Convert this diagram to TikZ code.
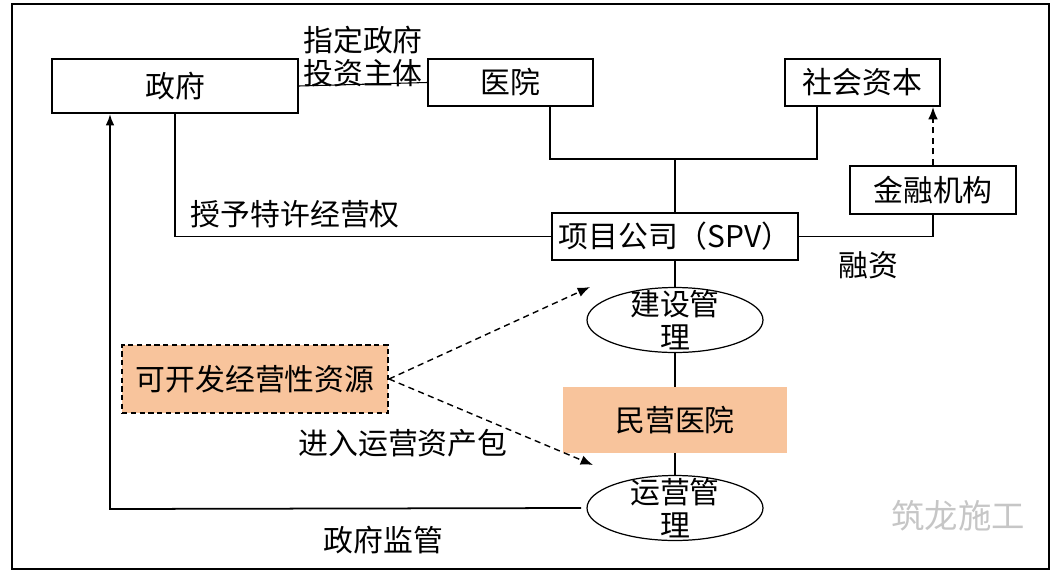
\documentclass[tikz,border=0pt]{standalone}
\usepackage{fontspec}
\setmainfont{Noto Sans CJK SC}
\usetikzlibrary{shapes.geometric, arrows.meta}
\definecolor{peach}{RGB}{248,196,156}

\begin{document}
\begin{tikzpicture}[
        x=0.02cm, y=-0.02cm,
        font=\fontsize{17}{19}\selectfont,
        box/.style={rectangle, draw, line width=1.2pt, inner sep=0pt},
        orange/.style={rectangle, fill=peach, inner sep=0pt, minimum
        width=4.48cm, minimum height=1.32cm},
        dashedbox/.style={rectangle, draw, fill=peach, dash pattern=on
          3pt off 2pt, line width=1.2pt, inner sep=0pt, minimum
        width=5.32cm, minimum height=1.36cm},
        oval/.style={ellipse, draw, line width=0.7pt, minimum
        width=3.52cm, minimum height=1.3cm, inner sep=0pt},
        line/.style={draw, line width=0.6pt},
        arrow/.style={draw, -{Latex[length=6.5pt, width=5pt]}, line width=1pt},
        dashedline/.style={draw, dash pattern=on 3.5pt off 2.5pt,
        -{Latex[length=7pt, width=5.5pt]}, line width=0.8pt}
      ]
      \useasboundingbox (0,0) rectangle (1064,575);
      \draw[line width=1.1pt] (12,4) rectangle (1049,569);

      \node [box, minimum width=4.92cm, minimum height=1.08cm] (t_gov)
      at (175, 86) {政府};
      \node [box, minimum width=3.3cm, minimum height=0.94cm] (t_hosp)
      at (510.5, 82.5) {医院};
      \node [box, minimum width=3.1cm, minimum height=0.94cm] (t_cap)
      at (862.5, 82.5) {社会资本};
      \node [box, minimum width=3.32cm, minimum height=0.96cm] (t_bank)
      at (933, 190) {金融机构};

      \node [box, minimum width=4.92cm, minimum height=0.94cm] (m_spv)
      at (675, 236.5) {项目公司（SPV）};
      \node [oval, label={[align=center, inner sep=0pt]center:建设管\\理}]
      (m_build) at (675, 320) {};
      \node [orange] (m_private) at (675, 420) {民营医院};
      \node [oval, label={[align=center, inner sep=0pt]center:运营管\\理}]
      (m_operate) at (675, 508) {};

      \node [dashedbox] (l_res) at (255, 379) {可开发经营性资源};

      \coordinate (j_left) at (550, 159);
      \coordinate (j_right) at (817, 159);
      \coordinate (c_sup) at (110, 509);

      \path [line] (t_gov.east) -- node[above, align=center, inner
      sep=0pt, yshift=-2pt] {指定政府\\投资主体} (t_hosp.west);
      \path [line] (j_left |- t_hosp.south) -- (j_left) -- (j_right)
      -- (j_right |- t_cap.south);
      \path [line] (m_spv.north |- j_left) -- (m_spv.north);

      \path [line] (t_gov.south) |- node[pos=0.66, above, yshift=1pt]
      {授予特许经营权} (m_spv.west);
      \path [line] (m_spv.east) -| (t_bank.south);
      \path [dashedline] (t_bank.north) -- (t_bank.north |- t_cap.south);
      \node (l_fin) at (868, 265) {融资};

      \path [line] (m_spv.south) -- (m_build.north);
      \path [line] (m_build.south) -- (m_private.north);
      \path [line] (m_private.south) -- (m_operate.north);

      \path [dashedline] (l_res.east) -- (590, 287);
      \path [dashedline] (l_res.east) -- (593, 465);
      \node (l_pack) at (403, 443) {进入运营资产包};

      \path [arrow] ([xshift=-3pt]m_operate.west)
      -- node[pos=0.42, below, yshift=-6pt] {政府监管} (c_sup)
      -- (c_sup |- t_gov.south);

      \node [text=gray!45, font=\fontsize{19}{22}\selectfont] (w_mark)
      at (958, 516) {筑龙施工};

    \end{tikzpicture}
\end{document}
